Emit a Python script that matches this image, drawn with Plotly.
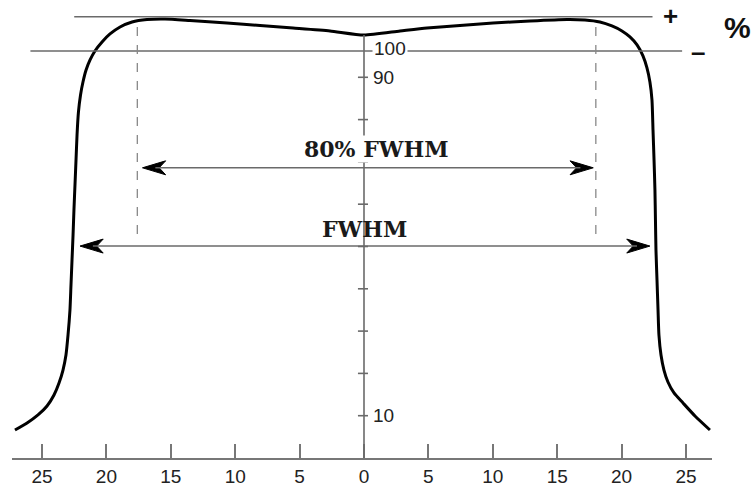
import plotly.graph_objects as go

# ---------------- data ----------------
# beam profile (off-axis distance, relative dose %)
profile_x = [-27.10, -26.16, -25.31, -24.61, -24.07, -23.68, -23.37, -23.14, -22.98, -22.83,
             -22.75, -22.67, -22.59, -22.52, -22.44, -22.36, -22.28, -22.17, -22.01, -21.82,
             -21.58, -21.27, -20.89, -20.34, -19.72, -18.94, -18.01, -16.85, -15.45, -13.51,
             -10.64, -8.07, -5.51, -2.64, 0.00,
             2.80, 4.89, 7.45, 10.02, 12.89, 15.76, 17.16, 18.32, 19.25, 20.03,
             20.65, 21.20, 21.66, 21.97, 22.20, 22.36, 22.44, 22.52, 22.59, 22.63,
             22.67, 22.75, 22.83, 22.90, 23.06, 23.29, 23.60, 24.07, 24.77, 25.70, 26.86]
profile_y = [6.62, 8.27, 10.17, 12.29, 14.89, 17.73, 20.80, 24.35, 29.08, 34.99,
             40.90, 46.81, 52.72, 58.63, 64.54, 70.45, 76.36, 81.80, 85.82, 88.89,
             91.73, 94.09, 96.22, 98.35, 100.24, 101.89, 103.07, 103.66, 103.78, 103.43,
             102.84, 102.25, 101.65, 100.95, 100.00,
             100.95, 101.65, 102.25, 102.84, 103.31, 103.66, 103.55, 103.07, 102.13, 100.95,
             99.53, 97.64, 95.04, 92.20, 88.89, 84.63, 77.54, 70.45, 63.36, 56.26,
             49.17, 42.08, 34.99, 29.08, 24.35, 20.80, 17.97, 15.37, 13.00, 9.93, 6.62]

x_tick_vals = [-25, -20, -15, -10, -5, 0, 5, 10, 15, 20, 25]
x_tick_text = ["25", "20", "15", "10", "5", "0", "5", "10", "15", "20", "25"]
y_tick_vals = [10, 20, 30, 40, 50, 60, 70, 80, 90]
y_label_vals = [10, 90]
y_label_text = ["10", "90"]

tol_plus = 104.3      # upper tolerance line
tol_minus = 96.2      # lower tolerance line
plus_span = [-22.5, 22.4]
minus_span = [-25.9, 24.7]

fwhm_y = 50.1
fwhm_ends = [-22.05, 22.2]
fwhm80_y = 68.6
fwhm80_ends = [-17.2, 17.8]
dash_x = [-17.6, 18.0]
dash_top, dash_bottom = 101.9, 52.5

# ---------------- figure ----------------
LINE_GREY = "#6a6a6a"
fig = go.Figure()

fig.add_trace(go.Scatter(x=profile_x, y=profile_y, mode="lines",
                         line=dict(color="black", width=3, shape="spline", smoothing=0.6),
                         hoverinfo="skip", cliponaxis=False))

# arrowheads as filled polygons (stealth style)
HL, HH = 1.8, 1.65  # head length (x units), half height (y units)
def head(xt, y, direction):
    d = direction
    xs = [xt, xt - d * HL, xt - d * 0.72 * HL, xt - d * HL, xt]
    ys = [y, y + HH, y, y - HH, y]
    fig.add_trace(go.Scatter(x=xs, y=ys, mode="lines", fill="toself",
                             fillcolor="black", line=dict(color="black", width=1),
                             hoverinfo="skip"))

shapes = []
# tolerance lines
shapes.append(dict(type="line", x0=plus_span[0], x1=plus_span[1], y0=tol_plus, y1=tol_plus,
                   line=dict(color=LINE_GREY, width=1.6)))
shapes.append(dict(type="line", x0=minus_span[0], x1=minus_span[1], y0=tol_minus, y1=tol_minus,
                   line=dict(color=LINE_GREY, width=1.6)))
# central vertical axis
shapes.append(dict(type="line", x0=0, x1=0, y0=100.0, y1=0,
                   line=dict(color=LINE_GREY, width=1.6)))
for v in y_tick_vals:
    shapes.append(dict(type="line", x0=-0.47, x1=0.31, y0=v, y1=v,
                       line=dict(color=LINE_GREY, width=1.6)))
# dashed 80% lines
for dx in dash_x:
    shapes.append(dict(type="line", x0=dx, x1=dx, y0=dash_top, y1=dash_bottom,
                       line=dict(color="#888888", width=1.3, dash="dash")))
# arrow shafts
for yv, ends in [(fwhm80_y, fwhm80_ends), (fwhm_y, fwhm_ends)]:
    shapes.append(dict(type="line", x0=ends[0] + 1, x1=ends[1] - 1, y0=yv, y1=yv,
                       line=dict(color=LINE_GREY, width=1.6)))
    head(ends[0], yv, -1)
    head(ends[1], yv, 1)

annotations = []
num_font = dict(family="Liberation Sans, Arial, sans-serif", size=19, color="#222222")
for v, t in zip(y_label_vals, y_label_text):
    annotations.append(dict(x=0.55, y=v, text=t, showarrow=False, xanchor="left",
                            yanchor="middle", font=num_font))
annotations.append(dict(x=0.6, y=tol_minus + 0.5, text="100", showarrow=False, xanchor="left",
                        yanchor="middle", font=num_font, bgcolor="white", borderpad=1))
label_font = dict(family="DejaVu Serif, serif", size=22, color="#1a1a1a")
annotations.append(dict(x=1.0, y=fwhm80_y + 4.4, text="<b>80% FWHM</b>", showarrow=False,
                        xanchor="center", yanchor="middle", font=label_font,
                        bgcolor="white", borderpad=0))
annotations.append(dict(x=0.0, y=fwhm_y + 4.0, text="<b>FWHM</b>", showarrow=False,
                        xanchor="center", yanchor="middle", font=label_font))
sign_font = dict(family="Liberation Sans, Arial, sans-serif", size=26, color="#111111")
annotations.append(dict(x=23.8, y=tol_plus + 0.2, text="<b>+</b>", showarrow=False,
                        xanchor="center", yanchor="middle", font=sign_font))
annotations.append(dict(x=25.9, y=tol_minus - 0.3, text="<b>–</b>", showarrow=False,
                        xanchor="center", yanchor="middle", font=sign_font))
annotations.append(dict(x=1.037, xref="paper", y=0.941, yref="paper", text="<b>%</b>",
                        showarrow=False, xanchor="center", yanchor="middle",
                        font=dict(family="Liberation Sans, Arial, sans-serif", size=30,
                                  color="#111111")))

fig.update_layout(
    width=752, height=493,
    margin=dict(l=12, r=40, t=0, b=35),
    plot_bgcolor="white", paper_bgcolor="white",
    showlegend=False,
    shapes=shapes, annotations=annotations,
    xaxis=dict(range=[-27.33, 27.02], showgrid=False, zeroline=False,
               showline=True, linecolor="#777777", linewidth=1.6,
               ticks="inside", ticklen=14, tickwidth=1.6, tickcolor="#777777",
               tickvals=x_tick_vals, ticktext=x_tick_text, tickfont=num_font,
               fixedrange=True),
    yaxis=dict(range=[0, 108.27], visible=False, fixedrange=True),
)

fig.write_html("out.html")
